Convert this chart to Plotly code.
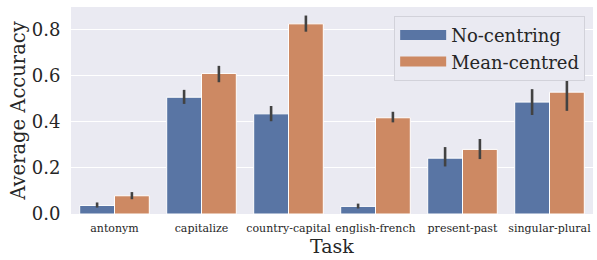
import plotly.graph_objects as go

tasks = ["antonym", "capitalize", "country-capital", "english-french", "present-past", "singular-plural"]
no_centring = [0.037, 0.506, 0.434, 0.033, 0.242, 0.485]
no_centring_lo = [0.028, 0.477, 0.402, 0.024, 0.206, 0.429]
no_centring_hi = [0.050, 0.538, 0.468, 0.045, 0.290, 0.541]
mean_centred = [0.079, 0.609, 0.824, 0.417, 0.280, 0.528]
mean_centred_lo = [0.064, 0.571, 0.790, 0.397, 0.238, 0.447]
mean_centred_hi = [0.095, 0.642, 0.860, 0.443, 0.325, 0.607]
series_names = ["No-centring", "Mean-centred"]

FONT = "DejaVu Serif"
BLUE = "#5975A4"
ORANGE = "#CD8963"
ERR = "#424242"
TXT = "#262626"

def bar(name, vals, lo, hi, color):
    return go.Bar(
        name=name, x=tasks, y=vals, showlegend=False, legendgroup=name,
        marker=dict(color=color, line=dict(color="white", width=1)),
        error_y=dict(type="data", symmetric=False,
                     array=[h - v for h, v in zip(hi, vals)],
                     arrayminus=[v - l for v, l in zip(vals, lo)],
                     color=ERR, thickness=2.6, width=0),
    )

def legend_entry(name, color):
    return go.Scatter(name=name, x=[None], y=[None], mode="lines", legendgroup=name,
                      line=dict(color=color, width=12), hoverinfo="skip")

fig = go.Figure([
    bar(series_names[0], no_centring, no_centring_lo, no_centring_hi, BLUE),
    bar(series_names[1], mean_centred, mean_centred_lo, mean_centred_hi, ORANGE),
    legend_entry(series_names[0], BLUE),
    legend_entry(series_names[1], ORANGE),
])

fig.update_layout(
    width=597, height=260,
    margin=dict(l=71, r=4, t=7, b=46, autoexpand=False),
    paper_bgcolor="white", plot_bgcolor="#EAEAF2",
    barmode="group", bargap=0.2, bargroupgap=0,
    font=dict(family=FONT, color=TXT),
    showlegend=True,
    legend=dict(
        x=0.985, y=0.957, xanchor="right", yanchor="top",
        bgcolor="#EAEAF2", bordercolor="#D2D2DA", borderwidth=1,
        font=dict(family=FONT, size=18, color=TXT),
        itemwidth=46, tracegroupgap=0,
    ),
)
fig.update_xaxes(
    type="category", showgrid=False, zeroline=False, showline=False, automargin=False,
    tickfont=dict(family=FONT, size=11, color=TXT),
    ticks="outside", ticklen=4, tickcolor="rgba(0,0,0,0)",
    title=dict(text="Task", font=dict(family=FONT, size=19, color=TXT), standoff=0),
)
fig.update_yaxes(
    range=[0, 0.897], tickvals=[0, 0.2, 0.4, 0.6, 0.8], tickformat=".1f",
    showgrid=True, gridcolor="white", gridwidth=1, zeroline=False, showline=False, automargin=False,
    tickfont=dict(family=FONT, size=18, color=TXT),
    ticks="outside", ticklen=6, tickcolor="rgba(0,0,0,0)",
    title=dict(text="Average Accuracy", font=dict(family=FONT, size=19.5, color=TXT), standoff=0),
)

fig.write_html("out.html", config={"displayModeBar": False},
               post_script="document.body.style.margin='0px';document.body.style.overflow='hidden';")
